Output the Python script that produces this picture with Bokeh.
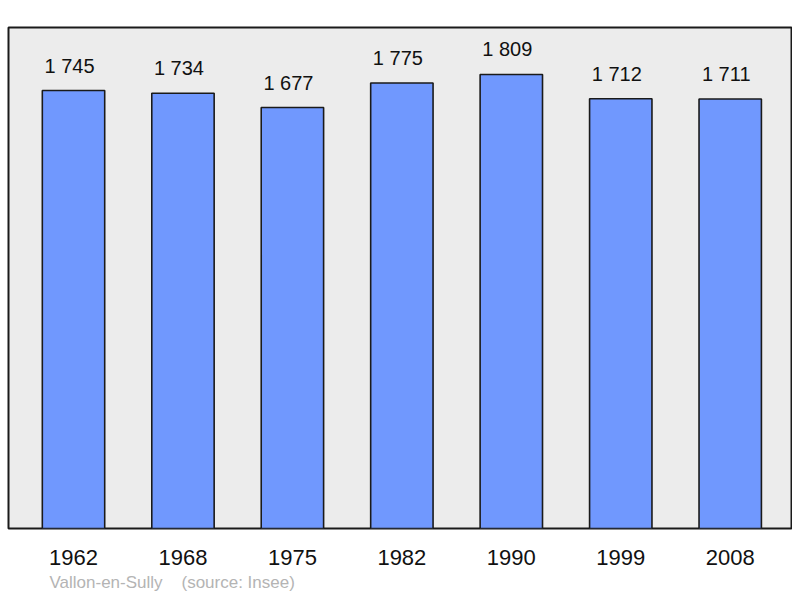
from bokeh.plotting import figure
from bokeh.models import ColumnDataSource, Range1d, FixedTicker, Title, LabelSet
from bokeh.core.properties import value
from bokeh.embed import file_html
from bokeh.resources import INLINE

years = ["1962", "1968", "1975", "1982", "1990", "1999", "2008"]
population = [1745, 1734, 1677, 1775, 1809, 1712, 1711]
place = "Vallon-en-Sully"
source_note = "(source: Insee)"

xs = list(range(len(years)))
labels = [f"{v // 1000} {v % 1000:03d}" for v in population]
src = ColumnDataSource(dict(x=xs, top=population, label=labels))

p = figure(width=792, height=594, output_backend="svg", toolbar_location=None,
           x_range=Range1d(-0.594, 6.569), y_range=Range1d(0, 1996),
           min_border_left=8, min_border_right=0, min_border_top=27, min_border_bottom=66)

p.background_fill_color = "#ececec"
p.border_fill_color = "white"
p.outline_line_color = "#1a1a1a"
p.outline_line_width = 2
p.grid.visible = False
p.yaxis.visible = False

p.vbar(x="x", top="top", bottom=0, width=0.57, source=src,
       fill_color="#7098fe", line_color="#1a1a1a", line_width=1.6)

ls = LabelSet(x="x", y="top", text="label", source=src, text_align="center",
              text_baseline="bottom", x_offset=-4, y_offset=14,
              text_font=value("Liberation Sans"),
              text_font_size=value("20px"), text_color="#111111")
p.add_layout(ls)

ax = p.xaxis[0]
ax.ticker = FixedTicker(ticks=xs)
ax.major_label_overrides = {i: y for i, y in zip(xs, years)}
ax.axis_line_color = None
ax.major_tick_line_color = None
ax.minor_tick_line_color = None
ax.major_label_standoff = 15
ax.major_label_text_font = "Liberation Sans"
ax.major_label_text_font_size = "22px"
ax.major_label_text_color = "#111111"

t = Title(text=f"{place}\u00a0\u00a0\u00a0\u00a0{source_note}", align="left", offset=41,
          text_font="Liberation Sans", text_font_size="17px",
          text_font_style="normal", text_color="#b4b4b4", standoff=6)
p.add_layout(t, "below")

open("out.html", "w").write(file_html(p, INLINE))
